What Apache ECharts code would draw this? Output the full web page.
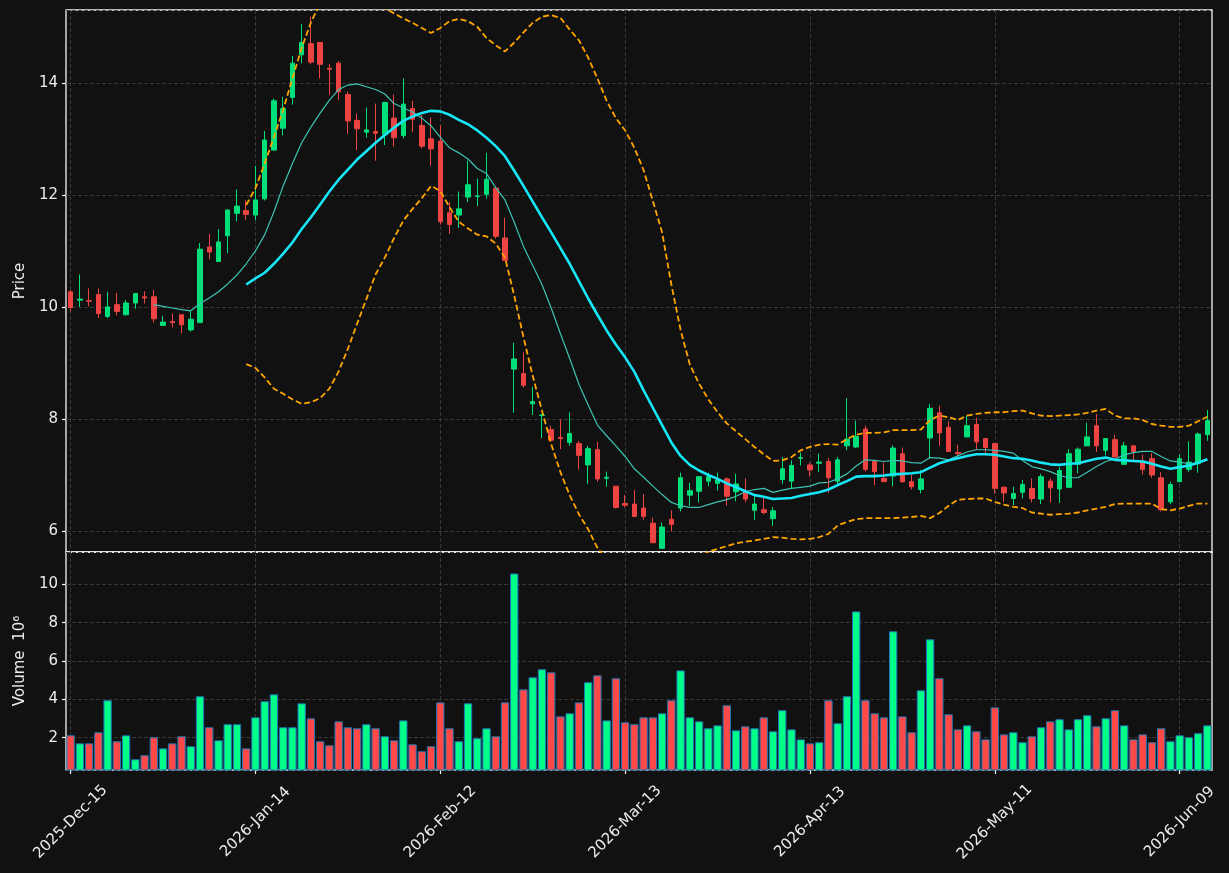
<!DOCTYPE html>
<html>
<head>
<meta charset="utf-8">
<script src="https://cdn.jsdelivr.net/npm/echarts@6/dist/echarts.min.js"></script>
<style>
html,body{margin:0;padding:0;background:#111111;}
#chart{width:1229px;height:873px;}
</style>
</head>
<body>
<div id="chart"></div>
<script>
// ---- categories (trading days) ----
const dates = [
'2025-Dec-15','2025-Dec-16','2025-Dec-17','2025-Dec-18','2025-Dec-19',
'2025-Dec-22','2025-Dec-23','2025-Dec-24','2025-Dec-26',
'2025-Dec-29','2025-Dec-30','2025-Dec-31','2026-Jan-02',
'2026-Jan-05','2026-Jan-06','2026-Jan-07','2026-Jan-08','2026-Jan-09',
'2026-Jan-12','2026-Jan-13','2026-Jan-14','2026-Jan-15','2026-Jan-16',
'2026-Jan-20','2026-Jan-21','2026-Jan-22','2026-Jan-23',
'2026-Jan-26','2026-Jan-27','2026-Jan-28','2026-Jan-29','2026-Jan-30',
'2026-Feb-02','2026-Feb-03','2026-Feb-04','2026-Feb-05','2026-Feb-06',
'2026-Feb-09','2026-Feb-10','2026-Feb-11','2026-Feb-12','2026-Feb-13',
'2026-Feb-17','2026-Feb-18','2026-Feb-19','2026-Feb-20',
'2026-Feb-23','2026-Feb-24','2026-Feb-25','2026-Feb-26','2026-Feb-27',
'2026-Mar-02','2026-Mar-03','2026-Mar-04','2026-Mar-05','2026-Mar-06',
'2026-Mar-09','2026-Mar-10','2026-Mar-11','2026-Mar-12','2026-Mar-13',
'2026-Mar-16','2026-Mar-17','2026-Mar-18','2026-Mar-19','2026-Mar-20',
'2026-Mar-23','2026-Mar-24','2026-Mar-25','2026-Mar-26','2026-Mar-27',
'2026-Mar-30','2026-Mar-31','2026-Apr-01','2026-Apr-02',
'2026-Apr-06','2026-Apr-07','2026-Apr-08','2026-Apr-09','2026-Apr-10',
'2026-Apr-13','2026-Apr-14','2026-Apr-15','2026-Apr-16','2026-Apr-17',
'2026-Apr-20','2026-Apr-21','2026-Apr-22','2026-Apr-23','2026-Apr-24',
'2026-Apr-27','2026-Apr-28','2026-Apr-29','2026-Apr-30','2026-May-01',
'2026-May-04','2026-May-05','2026-May-06','2026-May-07','2026-May-08',
'2026-May-11','2026-May-12','2026-May-13','2026-May-14','2026-May-15',
'2026-May-18','2026-May-19','2026-May-20','2026-May-21','2026-May-22',
'2026-May-26','2026-May-27','2026-May-28','2026-May-29',
'2026-Jun-01','2026-Jun-02','2026-Jun-03','2026-Jun-04','2026-Jun-05',
'2026-Jun-08','2026-Jun-09','2026-Jun-10','2026-Jun-11','2026-Jun-12'
];
const tickIndices = [0, 20, 40, 60, 80, 100, 120];

// ---- OHLC ----
const openP = [
10.27,10.12,10.11,10.22,9.83,10.04,9.86,10.07,10.18,10.18,
9.67,9.74,9.86,9.59,9.72,11.07,10.81,11.27,11.67,11.72,
11.64,11.93,12.80,13.19,13.74,14.50,14.70,14.72,14.26,14.35,
13.79,13.33,13.12,13.13,13.08,13.37,13.06,13.54,13.24,13.00,
12.96,11.68,11.64,11.96,11.97,12.01,12.12,11.23,8.89,8.81,
8.27,8.06,7.81,7.67,7.58,7.56,7.18,7.45,6.94,6.80,
6.49,6.48,6.41,6.14,5.69,6.21,6.41,6.64,6.71,6.89,
6.85,6.93,6.70,6.71,6.37,6.38,6.22,6.92,6.89,7.30,
7.18,7.21,7.24,6.89,7.52,7.50,7.82,7.24,6.94,6.98,
7.38,6.88,6.74,7.66,8.11,7.85,7.40,7.68,7.90,7.65,
7.56,6.78,6.58,6.69,6.76,6.57,6.89,6.75,6.78,7.19,
7.52,7.88,7.44,7.63,7.19,7.52,7.25,7.29,6.95,6.52,
6.88,7.10,7.20,7.72
];
const closeP = [
9.99,10.14,10.10,9.88,10.00,9.92,10.07,10.24,10.16,9.79,
9.73,9.72,9.68,9.78,11.03,10.98,11.16,11.73,11.80,11.65,
11.91,12.98,13.68,13.54,14.35,14.72,14.37,14.33,14.24,13.84,
13.32,13.18,13.16,13.10,13.65,13.02,13.62,13.35,12.87,12.82,
11.52,11.47,11.75,12.18,11.98,12.28,11.26,10.83,9.07,8.60,
8.31,8.07,7.62,7.65,7.74,7.35,7.47,6.93,6.96,6.42,
6.46,6.26,6.26,5.79,6.07,6.12,6.95,6.72,6.97,6.97,
6.91,6.62,6.84,6.57,6.48,6.33,6.36,7.11,7.17,7.31,
7.09,7.23,6.95,7.27,7.64,7.69,7.10,7.06,6.88,7.48,
6.88,6.79,6.93,8.19,7.75,7.42,7.38,7.88,7.59,7.49,
6.76,6.68,6.67,6.83,6.58,6.97,6.77,7.08,7.38,7.46,
7.68,7.52,7.65,7.32,7.52,7.42,7.10,7.00,6.38,6.83,
7.29,7.23,7.73,7.97
];
const lowP = [
9.92,10.00,10.01,9.80,9.80,9.85,9.85,9.97,10.06,9.72,
9.66,9.63,9.53,9.56,9.72,10.85,10.81,10.96,11.53,11.55,
11.55,11.90,12.79,13.06,13.61,14.35,14.33,14.08,13.78,13.69,
13.09,12.80,13.02,12.61,12.89,12.86,13.01,13.12,12.83,12.52,
11.47,11.30,11.41,11.87,11.80,11.93,11.22,10.83,8.11,8.56,
8.07,7.66,7.62,7.46,7.52,7.10,6.84,6.88,6.79,6.40,
6.42,6.25,6.20,5.79,5.69,5.99,6.35,6.45,6.51,6.80,
6.72,6.45,6.53,6.51,6.20,6.30,6.09,6.84,6.76,7.17,
6.97,7.05,6.68,6.83,7.44,7.48,7.06,6.82,6.88,6.80,
6.86,6.74,6.67,7.29,7.52,7.42,7.30,7.67,7.45,7.36,
6.67,6.52,6.46,6.58,6.51,6.48,6.51,6.50,6.78,7.03,
7.52,7.41,7.35,7.32,7.19,7.26,7.01,6.95,6.35,6.48,
6.88,7.05,7.04,7.61
];
const highP = [
10.30,10.58,10.33,10.33,10.27,10.25,10.12,10.24,10.28,10.30,
9.84,9.88,9.86,9.94,11.14,11.30,11.39,11.74,12.10,11.90,
12.52,13.14,13.72,13.75,14.48,15.05,15.18,14.72,14.34,14.39,
13.84,13.45,13.56,13.63,13.66,13.79,14.08,13.68,13.43,13.38,
13.24,11.87,12.06,12.61,12.29,12.75,12.12,11.59,9.36,9.19,
8.57,8.09,7.88,7.99,8.12,7.61,7.52,7.59,7.06,6.80,
6.64,6.73,6.66,6.24,6.15,6.37,7.04,6.86,6.97,7.04,
7.04,6.96,7.02,6.94,6.62,6.59,6.43,7.32,7.26,7.40,
7.22,7.38,7.30,7.32,8.37,7.97,7.88,7.24,7.22,7.53,
7.49,7.00,7.09,8.27,8.24,7.96,7.54,8.06,8.02,7.65,
7.56,6.80,6.79,6.91,6.94,7.02,6.94,7.14,7.46,7.49,
7.93,8.09,7.66,7.72,7.59,7.52,7.36,7.39,7.05,6.88,
7.37,7.60,7.76,8.16
];

// ---- volume (x 10^6) ----
const volume = [
2.12,1.70,1.70,2.28,3.95,1.81,2.12,0.87,1.08,2.02,
1.44,1.70,2.07,1.55,4.16,2.54,1.86,2.70,2.70,1.44,
3.06,3.90,4.26,2.54,2.54,3.79,3.01,1.81,1.60,2.85,
2.54,2.49,2.70,2.49,2.07,1.86,2.90,1.65,1.29,1.55,
3.84,2.49,1.81,3.79,1.97,2.49,2.07,3.84,10.57,4.52,
5.15,5.57,5.41,3.11,3.27,3.84,4.89,5.25,2.90,5.10,
2.80,2.70,3.06,3.06,3.27,3.95,5.51,3.06,2.85,2.49,
2.64,3.69,2.38,2.59,2.49,3.06,2.33,3.43,2.43,1.91,
1.70,1.76,3.95,2.75,4.16,8.59,3.95,3.27,3.06,7.55,
3.11,2.28,4.47,7.13,5.10,3.22,2.43,2.64,2.33,1.91,
3.58,2.17,2.28,1.76,2.07,2.54,2.85,2.96,2.43,2.96,
3.17,2.59,3.01,3.43,2.64,1.91,2.17,1.76,2.49,1.81,
2.12,2.02,2.23,2.64
];

// ---- moving average 10 (starts at index 9) ----
const ma10Start = 9;
const ma10 = [
10.04,10.01,9.98,9.95,9.93,10.06,10.16,10.27,10.41,10.57,
10.77,11.00,11.29,11.70,12.16,12.56,12.93,13.21,13.46,13.69,
13.88,13.96,13.98,13.93,13.88,13.80,13.63,13.55,13.48,13.37,
13.23,13.03,12.84,12.75,12.64,12.47,12.38,12.13,11.91,11.51,
11.08,10.74,10.40,9.98,9.52,9.08,8.62,8.25,7.89,7.70,
7.52,7.33,7.11,6.96,6.80,6.65,6.51,6.45,6.42,6.42,
6.47,6.52,6.56,6.62,6.70,6.74,6.76,6.69,6.73,6.76,
6.78,6.80,6.86,6.87,6.93,7.02,7.16,7.27,7.26,7.24,
7.26,7.25,7.22,7.21,7.31,7.30,7.27,7.34,7.41,7.45,
7.45,7.44,7.42,7.39,7.26,7.15,7.11,7.06,6.99,6.95,
6.95,7.05,7.15,7.24,7.28,7.36,7.40,7.42,7.42,7.33,
7.25,7.23,7.20,7.21,7.27
];

// ---- moving average 20 and its bands (start at index 19) ----
const ma20Start = 19;
const ma20 = [
10.40,10.51,10.61,10.77,10.95,11.15,11.39,11.60,11.83,12.06,
12.27,12.45,12.63,12.78,12.93,13.07,13.20,13.32,13.40,13.46,
13.50,13.49,13.43,13.34,13.26,13.15,13.02,12.87,12.69,12.43,
12.16,11.88,11.60,11.33,11.05,10.77,10.46,10.15,9.86,9.58,
9.33,9.10,8.84,8.51,8.20,7.89,7.58,7.34,7.18,7.08,
7.00,6.93,6.85,6.78,6.71,6.64,6.61,6.57,6.58,6.59,
6.63,6.66,6.69,6.74,6.82,6.89,6.97,6.98,6.98,6.99,
7.01,7.02,7.03,7.05,7.13,7.21,7.26,7.30,7.34,7.37,
7.37,7.36,7.33,7.30,7.29,7.26,7.22,7.19,7.18,7.20,
7.21,7.25,7.29,7.31,7.27,7.26,7.25,7.24,7.20,7.15,
7.11,7.14,7.17,7.22,7.28
];
const bandUpper = [
11.82,12.12,12.56,13.03,13.52,14.08,14.62,15.08,15.42,15.62,
15.72,15.70,15.62,15.52,15.42,15.33,15.24,15.15,15.07,14.98,
14.89,14.98,15.10,15.14,15.10,15.00,14.80,14.67,14.56,14.72,
14.90,15.07,15.18,15.21,15.16,14.95,14.76,14.45,14.08,13.68,
13.37,13.15,12.84,12.44,11.89,11.33,10.40,9.59,8.97,8.63,
8.35,8.12,7.92,7.78,7.64,7.50,7.37,7.25,7.26,7.32,
7.44,7.50,7.54,7.55,7.54,7.64,7.72,7.75,7.75,7.76,
7.80,7.80,7.80,7.81,7.98,8.06,8.03,7.98,8.06,8.09,
8.11,8.12,8.12,8.14,8.15,8.10,8.06,8.05,8.06,8.07,
8.08,8.11,8.15,8.18,8.06,8.01,8.01,7.98,7.91,7.88,
7.86,7.86,7.88,7.96,8.04
];
const bandLower = [
8.98,8.91,8.74,8.54,8.45,8.35,8.27,8.30,8.37,8.54,
8.85,9.25,9.70,10.14,10.58,10.88,11.23,11.54,11.75,11.94,
12.16,12.07,11.78,11.52,11.40,11.29,11.26,11.13,10.88,10.20,
9.46,8.77,8.15,7.55,7.05,6.64,6.30,6.03,5.70,5.48,
5.29,5.05,4.86,4.58,4.51,4.45,4.76,5.09,5.39,5.53,
5.63,5.68,5.73,5.78,5.81,5.83,5.86,5.89,5.88,5.86,
5.85,5.86,5.89,5.95,6.10,6.16,6.21,6.23,6.23,6.23,
6.23,6.24,6.25,6.27,6.23,6.32,6.45,6.56,6.57,6.58,
6.58,6.52,6.47,6.43,6.41,6.33,6.31,6.29,6.30,6.31,
6.33,6.37,6.40,6.43,6.48,6.49,6.49,6.49,6.49,6.39,
6.37,6.40,6.45,6.49,6.49
];

// ---- styling ----
const UP = '#00e07a', DOWN = '#ee4343';
const VUP = '#00ff88', VDOWN = '#ff4848';
const TXT = '#ececec';
const GRIDC = '#3c3c3c';
const FONT = 'DejaVu Sans';
const FS = 15;

function pad(start, arr) {
  const out = new Array(dates.length).fill(null);
  arr.forEach((v, i) => { out[start + i] = v; });
  return out;
}
const isTick = (i) => tickIndices.indexOf(i) >= 0;

const candleData = dates.map((d, i) => [openP[i], closeP[i], lowP[i], highP[i]]);
const volData = dates.map((d, i) => ({
  value: volume[i],
  itemStyle: { color: closeP[i] >= openP[i] ? VUP : VDOWN }
}));

const chart = echarts.init(document.getElementById('chart'), null, { renderer: 'canvas' });
const option = {
  backgroundColor: '#111111',
  animation: false,
  textStyle: { fontFamily: FONT },
  grid: [
    { left: 66, right: 17, top: 10, height: 542, show: true, borderColor: '#f4f4f4', borderWidth: 1.3, backgroundColor: 'transparent' },
    { left: 66, right: 17, top: 552, height: 218, show: true, borderColor: '#f4f4f4', borderWidth: 1.3, backgroundColor: 'transparent' }
  ],
  xAxis: [
    {
      type: 'category', gridIndex: 0, data: dates, boundaryGap: true,
      axisLine: { show: false }, axisTick: { show: false }, axisLabel: { show: false },
      splitLine: { show: true, alignWithLabel: true, interval: (i) => isTick(i),
        lineStyle: { color: GRIDC, type: [4, 2], width: 0.9 } }
    },
    {
      type: 'category', gridIndex: 1, data: dates, boundaryGap: true,
      axisLine: { show: false },
      axisTick: { show: true, alignWithLabel: true, interval: (i) => isTick(i), length: 4, inside: false,
        lineStyle: { color: '#f4f4f4', width: 1.2 } },
      axisLabel: { show: true, interval: (i) => isTick(i), rotate: 45, align: 'center', verticalAlign: 'middle',
        margin: 52, color: TXT, fontSize: FS, fontFamily: FONT },
      splitLine: { show: true, alignWithLabel: true, interval: (i) => isTick(i),
        lineStyle: { color: GRIDC, type: [4, 2], width: 0.9 } }
    }
  ],
  yAxis: [
    {
      type: 'value', gridIndex: 0, min: 5.625, max: 15.30, splitNumber: 5, scale: true,
      name: 'Price', nameLocation: 'middle', nameGap: 34, nameRotate: 90,
      nameTextStyle: { color: TXT, fontSize: FS, fontFamily: FONT },
      axisLine: { show: false },
      axisTick: { show: true, length: 4, lineStyle: { color: '#f4f4f4', width: 1.2 } },
      axisLabel: { color: TXT, fontSize: FS, fontFamily: FONT, margin: 8, showMinLabel: false, showMaxLabel: false,
        formatter: (v) => (Math.abs(v - Math.round(v)) < 1e-6 && Math.round(v) % 2 === 0) ? String(Math.round(v)) : '' },
      splitLine: { show: true, lineStyle: { color: GRIDC, type: [4, 2], width: 0.9 } }
    },
    {
      type: 'value', gridIndex: 1, min: 0.31, max: 11.69, splitNumber: 5, scale: true,
      name: 'Volume  10\u2076', nameLocation: 'middle', nameGap: 37, nameRotate: 90,
      nameTextStyle: { color: TXT, fontSize: FS, fontFamily: FONT },
      axisLine: { show: false },
      axisTick: { show: true, length: 4, lineStyle: { color: '#f4f4f4', width: 1.2 } },
      axisLabel: { color: TXT, fontSize: FS, fontFamily: FONT, margin: 8, showMinLabel: false, showMaxLabel: false,
        formatter: (v) => (Math.abs(v - Math.round(v)) < 1e-6 && Math.round(v) % 2 === 0) ? String(Math.round(v)) : '' },
      splitLine: { show: true, lineStyle: { color: GRIDC, type: [4, 2], width: 0.9 } }
    }
  ],
  series: [
    {
      type: 'candlestick', name: 'OHLC', xAxisIndex: 0, yAxisIndex: 0, data: candleData,
      barWidth: 5, z: 2,
      itemStyle: { color: UP, color0: DOWN, borderColor: UP, borderColor0: DOWN, borderWidth: 1 }
    },
    {
      type: 'line', name: 'MA10', xAxisIndex: 0, yAxisIndex: 0, data: pad(ma10Start, ma10),
      symbol: 'none', z: 3, lineStyle: { color: '#3dc3b3', width: 1.2 }
    },
    {
      type: 'line', name: 'MA20', xAxisIndex: 0, yAxisIndex: 0, data: pad(ma20Start, ma20),
      symbol: 'none', z: 4, lineStyle: { color: '#16e6f6', width: 2.6 }
    },
    {
      type: 'line', name: 'Upper', xAxisIndex: 0, yAxisIndex: 0, data: pad(ma20Start, bandUpper),
      symbol: 'none', z: 4, clip: true, lineStyle: { color: '#ffa500', width: 1.8, type: [6, 3] }
    },
    {
      type: 'line', name: 'Lower', xAxisIndex: 0, yAxisIndex: 0, data: pad(ma20Start, bandLower),
      symbol: 'none', z: 4, clip: true, lineStyle: { color: '#ffa500', width: 1.8, type: [6, 3] }
    },
    {
      type: 'bar', name: 'Volume', xAxisIndex: 1, yAxisIndex: 1, data: volData,
      barWidth: '90%', itemStyle: { borderColor: '#1f77b4', borderWidth: 1 }
    }
  ]
};
chart.setOption(option);
</script>
</body>
</html>
